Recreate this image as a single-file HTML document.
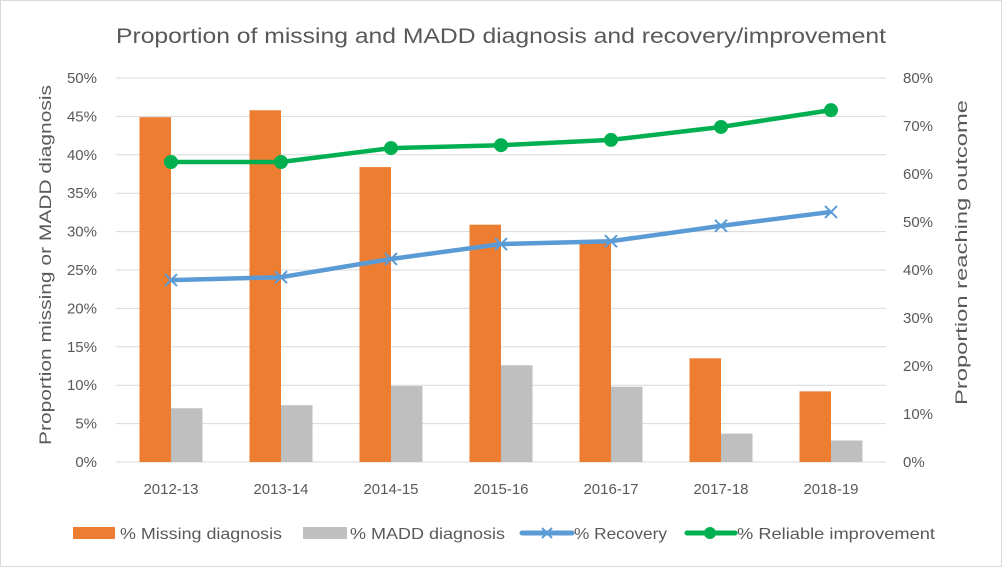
<!DOCTYPE html>
<html><head><meta charset="utf-8"><style>
body{margin:0;background:#fff;font-family:"Liberation Sans",sans-serif;}
svg text{font-family:"Liberation Sans",sans-serif;fill:#595959;}
</style></head><body>
<svg width="1002" height="567">
<rect x="0.5" y="0.5" width="1001" height="566" fill="#fff" stroke="#d9d9d9"/>
<text x="116" y="43" font-size="21" textLength="770" lengthAdjust="spacingAndGlyphs">Proportion of missing and MADD diagnosis and recovery/improvement</text>
<g id="grid"></g>
<g id="bars"></g>
<g id="lines"></g>
<g id="axes"></g>
<text transform="translate(51,445) rotate(-90)" font-size="17" textLength="360" lengthAdjust="spacingAndGlyphs">Proportion missing or MADD diagnosis</text>
<text transform="translate(967,405) rotate(-90)" font-size="17" textLength="305" lengthAdjust="spacingAndGlyphs">Proportion reaching outcome</text>
<g font-size="16">
<g><rect x="73" y="527" width="42" height="12" fill="#ed7d31"/><text x="120" y="539" textLength="162" lengthAdjust="spacingAndGlyphs">% Missing diagnosis</text></g>
<g><rect x="303" y="527" width="44" height="12" fill="#bfbfbf"/><text x="350" y="539" textLength="155" lengthAdjust="spacingAndGlyphs">% MADD diagnosis</text></g>
<g><line x1="522" y1="533" x2="572" y2="533" stroke="#5b9bd5" stroke-width="5" stroke-linecap="round"/><path d="M542 528l10 10M552 528l-10 10" stroke="#5b9bd5" stroke-width="2"/><text x="574" y="539" textLength="93" lengthAdjust="spacingAndGlyphs">% Recovery</text></g>
<g><line x1="687" y1="533" x2="735" y2="533" stroke="#00b050" stroke-width="5" stroke-linecap="round"/><circle cx="710" cy="533" r="6" fill="#00b050"/><text x="737" y="539" textLength="198" lengthAdjust="spacingAndGlyphs">% Reliable improvement</text></g>
</g>
</svg>
<script>
const categories=["2012-13","2013-14","2014-15","2015-16","2016-17","2017-18","2018-19"];
const missing=[44.9,45.8,38.4,30.9,28.5,13.5,9.2];
const madd=[7.0,7.4,9.9,12.6,9.8,3.7,2.8];
const recovery=[37.9,38.5,42.3,45.4,46.0,49.2,52.1];
const reliable=[62.5,62.5,65.4,66.0,67.1,69.8,73.3];
const leftTicks=[0,5,10,15,20,25,30,35,40,45,50];
const rightTicks=[0,10,20,30,40,50,60,70,80];
const NS="http://www.w3.org/2000/svg";
const x0=116,band=110,yb=462,yt=78;
const yL=v=>yb-(v/50)*(yb-yt);
const yR=v=>yb-(v/80)*(yb-yt);
const xc=i=>x0+band*(i+0.5);
function mk(p,t,a){const e=document.createElementNS(NS,t);for(const k in a)e.setAttribute(k,a[k]);document.getElementById(p).appendChild(e);return e;}
leftTicks.forEach(v=>{
 const l=mk('grid','line',{x1:x0,x2:x0+band*7,y1:yL(v),y2:yL(v),stroke:'#d9d9d9','stroke-width':1});
 
 
 const t=mk('axes','text',{x:97,y:yL(v)+5,'font-size':15,'text-anchor':'end'});t.textContent=v+'%';
 
 
});
rightTicks.forEach(v=>{
 const t=mk('axes','text',{x:903,y:yR(v)+5,'font-size':15});t.textContent=v+'%';
 
 
});
categories.forEach((c,i)=>{
 const t=mk('axes','text',{x:xc(i),y:494,'font-size':15,'text-anchor':'middle'});t.textContent=c;
 
 
 const b1=mk('bars','rect',{x:xc(i)-31.5,y:yL(missing[i]),width:31.5,height:yb-yL(missing[i]),fill:'#ed7d31'});
 
 
 const b2=mk('bars','rect',{x:xc(i),y:yL(madd[i]),width:31.5,height:yb-yL(madd[i]),fill:'#bfbfbf'});
 
 
});
const pr=mk('lines','polyline',{points:recovery.map((v,i)=>xc(i)+','+yR(v)).join(' '),fill:'none',stroke:'#5b9bd5','stroke-width':4.5,'stroke-linejoin':'round'});


recovery.forEach((v,i)=>{const x=xc(i),y=yR(v);
 const m=mk('lines','path',{d:`M${x-6} ${y-6}L${x+6} ${y+6}M${x+6} ${y-6}L${x-6} ${y+6}`,stroke:'#5b9bd5','stroke-width':2});
 
 });
const pg=mk('lines','polyline',{points:reliable.map((v,i)=>xc(i)+','+yR(v)).join(' '),fill:'none',stroke:'#00b050','stroke-width':4.5,'stroke-linejoin':'round'});


reliable.forEach((v,i)=>{
 const c=mk('lines','circle',{cx:xc(i),cy:yR(v),r:7,fill:'#00b050'});
 
 });
</script>
</body></html>
